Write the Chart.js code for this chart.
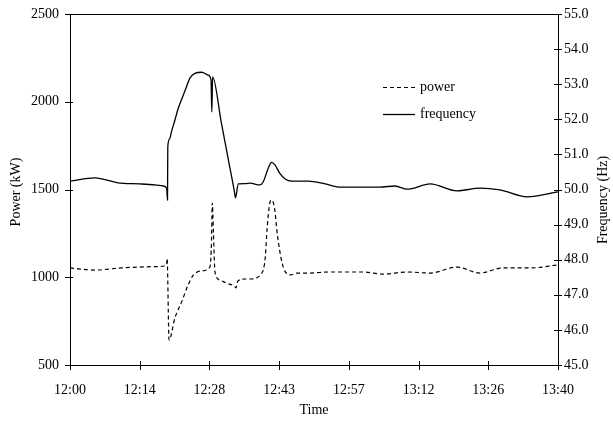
<!DOCTYPE html>
<html>
<head>
<meta charset="utf-8">
<script src="https://cdn.jsdelivr.net/npm/chart.js@4/dist/chart.umd.min.js"></script>
<style>
  html, body { margin: 0; padding: 0; background: #fff; }
  #wrap { width: 613px; height: 423px; position: relative; }
</style>
</head>
<body>
<div id="wrap"><canvas id="c" width="613" height="423"></canvas></div>
<script>
// ---- data (minutes after 12:00) ----
const timeLabels = ['12:00', '12:14', '12:28', '12:43', '12:57', '13:12', '13:26', '13:40'];

const powerTime = [0, 5.1, 10.3, 14.3, 18.0, 19.8, 19.9, 20.3, 21.5, 22.9, 24.2, 25.3, 27.0, 28.7, 29.0, 29.15, 29.4, 29.7, 30.7, 32.1, 33.8, 34.0, 34.4, 35.9, 36.9, 39.3, 40.0, 40.4, 41.0, 41.3, 41.9, 42.5, 43.4, 44.1, 45.1, 46.5, 49.2, 53.3, 60.0, 64.1, 69.1, 73.8, 79.3, 84.0, 88.7, 94.3, 100];
const powerValues = [1053, 1041, 1053, 1058, 1061, 1070, 1108, 642, 768, 861, 956, 1013, 1036, 1060, 1212, 1423, 1250, 1032, 984, 966, 946, 939, 979, 990, 990, 1023, 1110, 1281, 1430, 1440, 1395, 1241, 1089, 1032, 1013, 1023, 1024, 1030, 1030, 1018, 1030, 1024, 1058, 1024, 1053, 1053, 1070];

const freqTime = [0, 5.1, 9.8, 14.3, 17.4, 19.1, 19.8, 19.98, 20.04, 20.4, 20.8, 21.5, 22.2, 22.9, 23.6, 24.6, 25.6, 27.0, 28.3, 28.9, 29.06, 29.22, 31.0, 32.5, 33.7, 33.9, 34.5, 35.9, 36.9, 38.9, 39.6, 40.6, 41.3, 42.0, 43.0, 44.1, 45.4, 48.8, 52.3, 55.3, 63.5, 66.6, 69.1, 73.8, 79.3, 84.0, 88.1, 93.7, 100];
const freqValues = [50.24, 50.33, 50.19, 50.16, 50.13, 50.10, 50.04, 49.70, 51.21, 51.44, 51.65, 51.98, 52.32, 52.58, 52.83, 53.18, 53.31, 53.34, 53.26, 53.12, 52.21, 53.21, 51.91, 50.81, 49.93, 49.76, 50.16, 50.17, 50.18, 50.13, 50.22, 50.60, 50.77, 50.70, 50.46, 50.30, 50.24, 50.24, 50.16, 50.07, 50.07, 50.10, 50.01, 50.16, 49.96, 50.04, 49.99, 49.79, 49.93];

const FONT = '"Liberation Serif", "Times New Roman", serif';

const framePlugin = {
  id: 'frame',
  afterDraw(chart) {
    const ctx = chart.ctx;
    const a = chart.chartArea;
    ctx.save();
    ctx.strokeStyle = '#000';
    ctx.lineWidth = 1;
    ctx.strokeRect(Math.round(a.left) + 0.5, Math.round(a.top) + 0.5, Math.round(a.right - a.left), Math.round(a.bottom - a.top));
    const yl = chart.scales.y, yr = chart.scales.y1, xs = chart.scales.x;
    yl.ticks.forEach(t => {
      const y = Math.round(yl.getPixelForValue(t.value)) + 0.5;
      ctx.beginPath(); ctx.moveTo(a.left - 5, y); ctx.lineTo(a.left + 3, y); ctx.stroke();
    });
    yr.ticks.forEach(t => {
      const y = Math.round(yr.getPixelForValue(t.value)) + 0.5;
      ctx.beginPath(); ctx.moveTo(a.right - 4, y); ctx.lineTo(a.right + 4, y); ctx.stroke();
    });
    xs.ticks.forEach(t => {
      const x = Math.round(xs.getPixelForValue(t.value)) + 0.5;
      ctx.beginPath(); ctx.moveTo(x, a.bottom - 4); ctx.lineTo(x, a.bottom + 5); ctx.stroke();
    });
    ctx.fillStyle = '#000';
    ctx.font = '14px ' + FONT;
    ctx.textAlign = 'center';
    ctx.textBaseline = 'middle';
    ctx.fillText('Time', (a.left + a.right) / 2, 410);
    ctx.save();
    ctx.translate(16, 192);
    ctx.rotate(-Math.PI / 2);
    ctx.fillText('Power (kW)', 0, 0);
    ctx.restore();
    ctx.save();
    ctx.translate(603, 200);
    ctx.rotate(-Math.PI / 2);
    ctx.fillText('Frequency (Hz)', 0, 0);
    ctx.restore();
    ctx.textAlign = 'left';
    const items = [chart.data.datasets[0], chart.data.datasets[1]];
    const lx = 383, ly0 = 87, gap = 27;
    items.forEach((ds, i) => {
      const y = ly0 + i * gap + 0.5;
      ctx.save();
      ctx.strokeStyle = ds.borderColor;
      ctx.lineWidth = ds.borderWidth;
      ctx.setLineDash(ds.borderDash || []);
      ctx.beginPath(); ctx.moveTo(lx, y); ctx.lineTo(lx + 32, y); ctx.stroke();
      ctx.restore();
      ctx.fillText(ds.label, lx + 37, y);
    });
    ctx.restore();
  }
};

function makePoints(xs, ys) { return xs.map((x, i) => ({ x: x, y: ys[i] })); }

new Chart(document.getElementById('c'), {
  type: 'line',
  data: {
    datasets: [
      {
        label: 'power',
        data: makePoints(powerTime, powerValues),
        yAxisID: 'y',
        borderColor: '#000',
        borderWidth: 1.2,
        borderDash: [4, 3],
        pointRadius: 0,
        cubicInterpolationMode: 'monotone',
        fill: false
      },
      {
        label: 'frequency',
        data: makePoints(freqTime, freqValues),
        yAxisID: 'y1',
        borderColor: '#000',
        borderWidth: 1.3,
        pointRadius: 0,
        cubicInterpolationMode: 'monotone',
        fill: false
      }
    ]
  },
  options: {
    responsive: false,
    animation: false,
    devicePixelRatio: 1,
    layout: { padding: { top: 14, left: 0, right: 0, bottom: 0 } },
    plugins: { legend: { display: false }, tooltip: { enabled: false } },
    scales: {
      x: {
        type: 'linear',
        min: 0, max: 100,
        afterBuildTicks(scale) {
          scale.ticks = timeLabels.map((l, i) => ({ value: i * 100 / (timeLabels.length - 1) }));
        },
        afterFit(scale) { scale.height = 58; },
        grid: { display: false, drawTicks: false },
        border: { display: true, color: '#000', width: 1 },
        ticks: {
          color: '#000',
          font: { family: FONT, size: 14 },
          padding: 17,
          maxRotation: 0,
          autoSkip: false,
          callback(value, index) { return timeLabels[index]; }
        }
      },
      y: {
        position: 'left',
        min: 500, max: 2500,
        afterFit(scale) { scale.width = 70; scale.paddingTop = 4; scale.paddingBottom = 4; },
        grid: { display: false, drawTicks: false },
        border: { display: true, color: '#000', width: 1 },
        ticks: {
          stepSize: 500, color: '#000', font: { family: FONT, size: 14 }, padding: 11,
          callback(v) { return String(v); }
        }
      },
      y1: {
        position: 'right',
        min: 45, max: 55,
        afterFit(scale) { scale.width = 55; scale.paddingTop = 4; scale.paddingBottom = 4; },
        grid: { display: false, drawTicks: false },
        border: { display: true, color: '#000', width: 1 },
        ticks: {
          stepSize: 1, color: '#000', font: { family: FONT, size: 14 }, padding: 6,
          callback(v) { return Number(v).toFixed(1); }
        }
      }
    }
  },
  plugins: [framePlugin]
});
</script>
</body>
</html>
